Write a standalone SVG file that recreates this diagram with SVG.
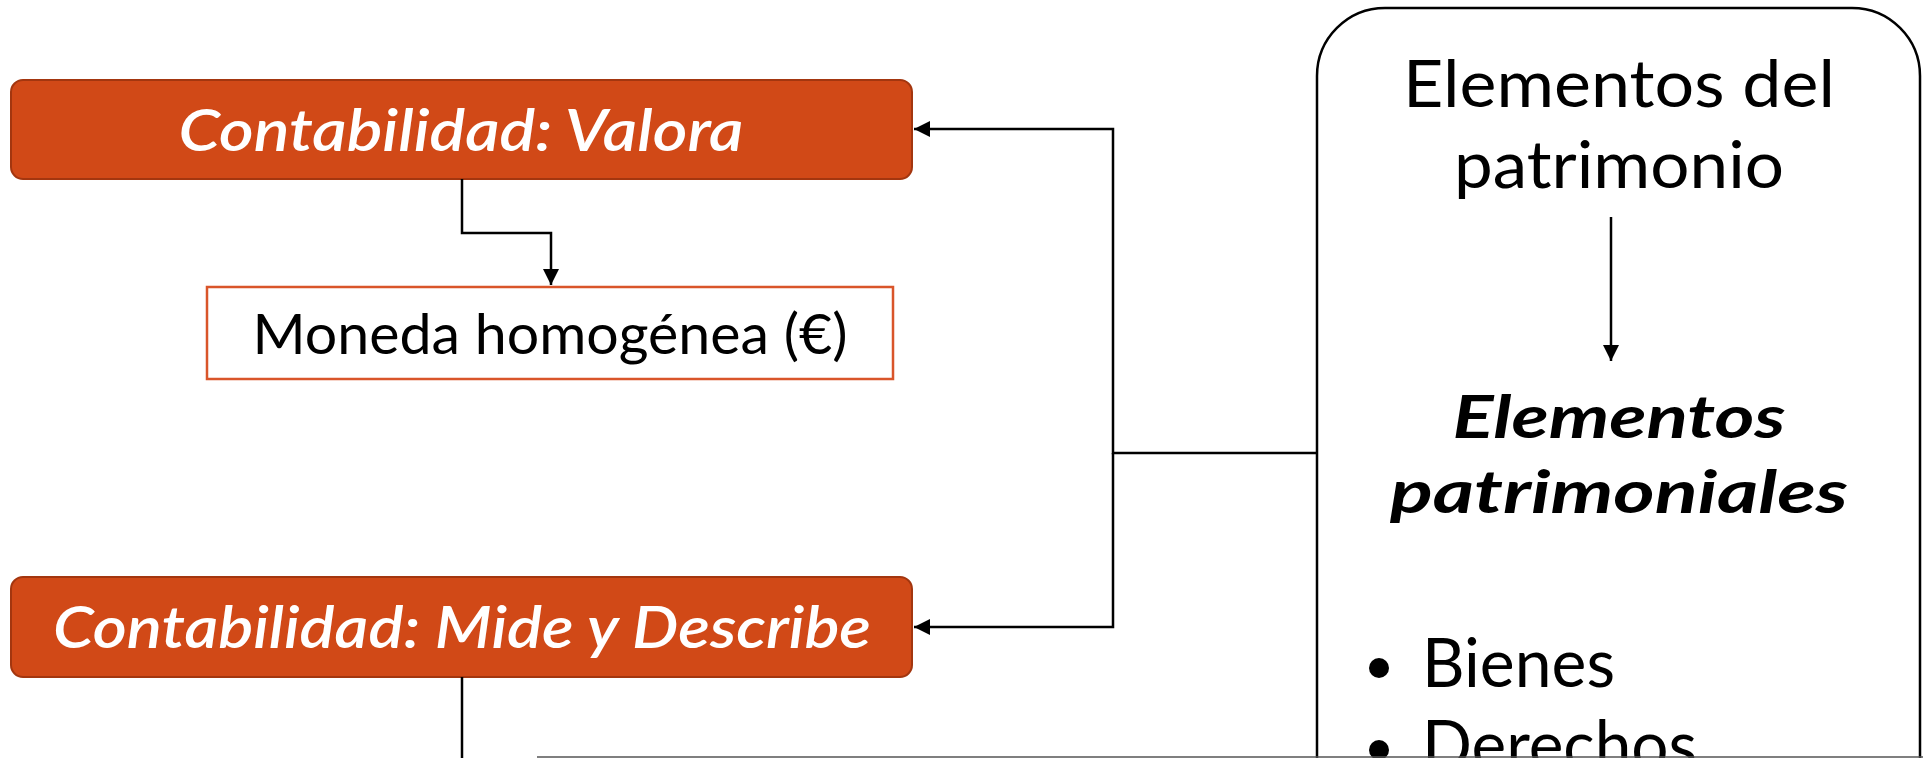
<svg xmlns="http://www.w3.org/2000/svg" width="1923" height="758" viewBox="0 0 1923 758">
<style>
.obox{fill:#D14917;stroke:#A3360F;stroke-width:2}
.wbox{fill:#FFFFFF;stroke:#D9552A;stroke-width:2.5}
.big{fill:#FFFFFF;stroke:#000000;stroke-width:2.5}
.wt{font-family:Lato,"Open Sans","DejaVu Sans",sans-serif;font-style:italic;font-weight:600;fill:#FFFFFF;font-size:58px;text-anchor:middle}
.bt{font-family:Lato,"Open Sans","DejaVu Sans",sans-serif;fill:#000000;text-anchor:middle}
.con{fill:none;stroke:#000000;stroke-width:2.5}
</style>
<defs>
<marker id="arr" markerUnits="userSpaceOnUse" markerWidth="18" markerHeight="18" refX="16" refY="8" orient="auto">
<path d="M0,0 L16,8 L0,16 Z" fill="#000000"/>
</marker>
</defs>
<rect x="0" y="0" width="1923" height="758" fill="#FFFFFF"/>
<g id="node-valora">
<rect class="obox" x="11" y="80" width="901" height="99" rx="12"/>
<text class="wt" x="461" y="151" textLength="565" lengthAdjust="spacingAndGlyphs">Contabilidad: Valora</text>
</g>
<g id="node-moneda">
<rect class="wbox" x="207" y="287" width="686" height="92"/>
<text class="bt" x="550" y="354" font-size="57" textLength="595" lengthAdjust="spacingAndGlyphs">Moneda homogénea (€)</text>
</g>
<g id="node-mide">
<rect class="obox" x="11" y="577" width="901" height="100" rx="12"/>
<text class="wt" x="462" y="648" textLength="818" lengthAdjust="spacingAndGlyphs">Contabilidad: Mide y Describe</text>
</g>
<g id="node-elementos">
<rect class="big" x="1317" y="8" width="603" height="900" rx="68"/>
<text class="bt" x="1619" y="107" font-size="65" textLength="432" lengthAdjust="spacingAndGlyphs">Elementos del</text>
<text class="bt" x="1619" y="188" font-size="65" textLength="330" lengthAdjust="spacingAndGlyphs">patrimonio</text>
<text class="bt" x="1619" y="438" font-size="60" font-weight="bold" font-style="italic" textLength="333" lengthAdjust="spacingAndGlyphs">Elementos</text>
<text class="bt" x="1619" y="513" font-size="60" font-weight="bold" font-style="italic" textLength="458" lengthAdjust="spacingAndGlyphs">patrimoniales</text>
<circle cx="1379" cy="668" r="10" fill="#000000"/>
<text class="bt" x="1422" y="687" font-size="68" style="text-anchor:start" textLength="193" lengthAdjust="spacingAndGlyphs">Bienes</text>
<circle cx="1379" cy="750" r="10" fill="#000000"/>
<text class="bt" x="1422" y="769" font-size="68" style="text-anchor:start" textLength="275" lengthAdjust="spacingAndGlyphs">Derechos</text>
</g>
<g id="connectors">
<path class="con" d="M462,179 V233 H551 V285" marker-end="url(#arr)"/>
<path class="con" d="M1317,453 H1113 V129 H914" marker-end="url(#arr)"/>
<path class="con" d="M1113,453 V627 H914" marker-end="url(#arr)"/>
<path class="con" d="M462,677 V760"/>
<path class="con" d="M1611,217 V361" marker-end="url(#arr)"/>
<line x1="537" y1="757" x2="1923" y2="757" stroke="#555555" stroke-width="1.5"/>
</g>
</svg>
